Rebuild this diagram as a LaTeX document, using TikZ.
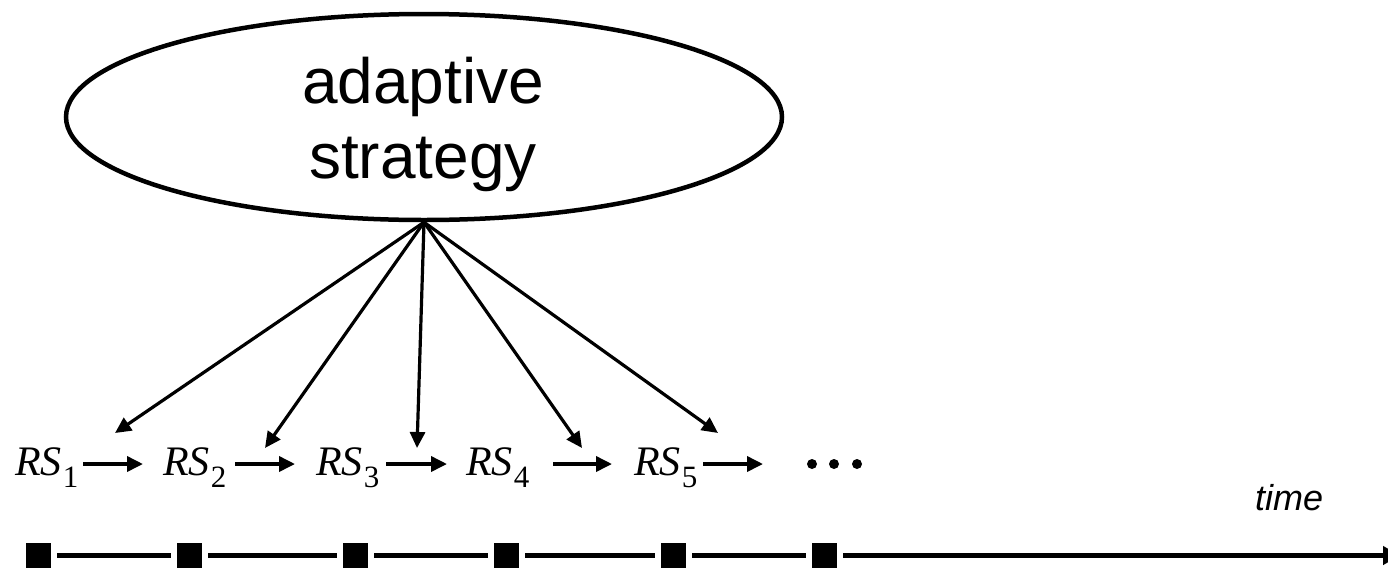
\documentclass[tikz,border=0pt]{standalone}
\usepackage{fontspec}
\setmainfont{Liberation Sans}
\newfontfamily\serifface{Liberation Serif}
\usetikzlibrary{arrows.meta,shapes.geometric}

% R S with an upright, lowered index
\newcommand{\rslabel}[1]{{\fontsize{42}{42}\selectfont\serifface\itshape RS}\kern1pt\raisebox{-12pt}{\fontsize{31}{31}\selectfont\serifface #1}}

\begin{document}
\begin{tikzpicture}[x=1pt,y=-1pt,
  strat/.style={ellipse,draw,line width=4.5pt,minimum width=716pt,minimum height=206pt,inner sep=0pt},
  bigtext/.style={align=center,font=\fontsize{64}{75}\selectfont,inner sep=0pt},
  rsl/.style={anchor=base west,inner sep=0pt},
  spoke/.style={line width=3.2pt,-{Triangle[length=16pt,width=15pt]}},
  flow/.style={line width=3.6pt,-{Triangle[length=16pt,width=15pt]}},
  dotnode/.style={circle,fill,inner sep=0pt,minimum size=10pt},
  tbox/.style={fill,inner sep=0pt,minimum size=25pt},
  tline/.style={line width=5pt}
]
\useasboundingbox (0,0) rectangle (1388,568);

% strategy ellipse and its text
\node[strat] (strat) at (424,117) {};
\node[bigtext] (stxt) at (423,124) {adaptive\\strategy};

% reservoir states along the row
\node[rsl] (rs1) at (15,475) {\rslabel{1}};
\node[rsl] (rs2) at (163,475) {\rslabel{2}};
\node[rsl] (rs3) at (316,475) {\rslabel{3}};
\node[rsl] (rs4) at (466,475) {\rslabel{4}};
\node[rsl] (rs5) at (634,475) {\rslabel{5}};

\node[dotnode] (d1) at (812,464) {};
\node[dotnode] (d2) at (834,464) {};
\node[dotnode] (d3) at (857,464) {};

% targets of the strategy arrows
\coordinate (t1) at (115,433);
\coordinate (t2) at (265,448);
\coordinate (t3) at (417,448);
\coordinate (t4) at (582,448);
\coordinate (t5) at (718,433);

\foreach \i in {1,...,5} \draw[spoke] (strat.south) -- (t\i);

% short transitions between states
\coordinate (h1a) at (83,464);  \coordinate (h1b) at (143,464);
\coordinate (h2a) at (235,464); \coordinate (h2b) at (295,464);
\coordinate (h3a) at (386,464); \coordinate (h3b) at (447,464);
\coordinate (h4a) at (553,464); \coordinate (h4b) at (612,464);
\coordinate (h5a) at (703,464); \coordinate (h5b) at (763,464);
\foreach \i in {1,...,5} \draw[flow] (h\i a) -- (h\i b);

% time axis
\node[anchor=base west,inner sep=0pt,font=\fontsize{36}{36}\selectfont\itshape] (time) at (1255,510) {time};

\node[tbox] (b1) at (38.5,555.5) {};
\node[tbox] (b2) at (189.5,555.5) {};
\node[tbox] (b3) at (355.5,555.5) {};
\node[tbox] (b4) at (506.5,555.5) {};
\node[tbox] (b5) at (673.5,555.5) {};
\node[tbox] (b6) at (824.5,555.5) {};
\coordinate (tend) at (1400,555.5);

\foreach \a/\b in {b1/b2,b2/b3,b3/b4,b4/b5,b5/b6}
  \draw[tline,shorten <=6pt,shorten >=6pt] (\a) -- (\b);
\draw[tline,shorten <=6pt,-{Triangle[length=17pt,width=18pt]}] (b6) -- (tend);
\end{tikzpicture}
\end{document}
